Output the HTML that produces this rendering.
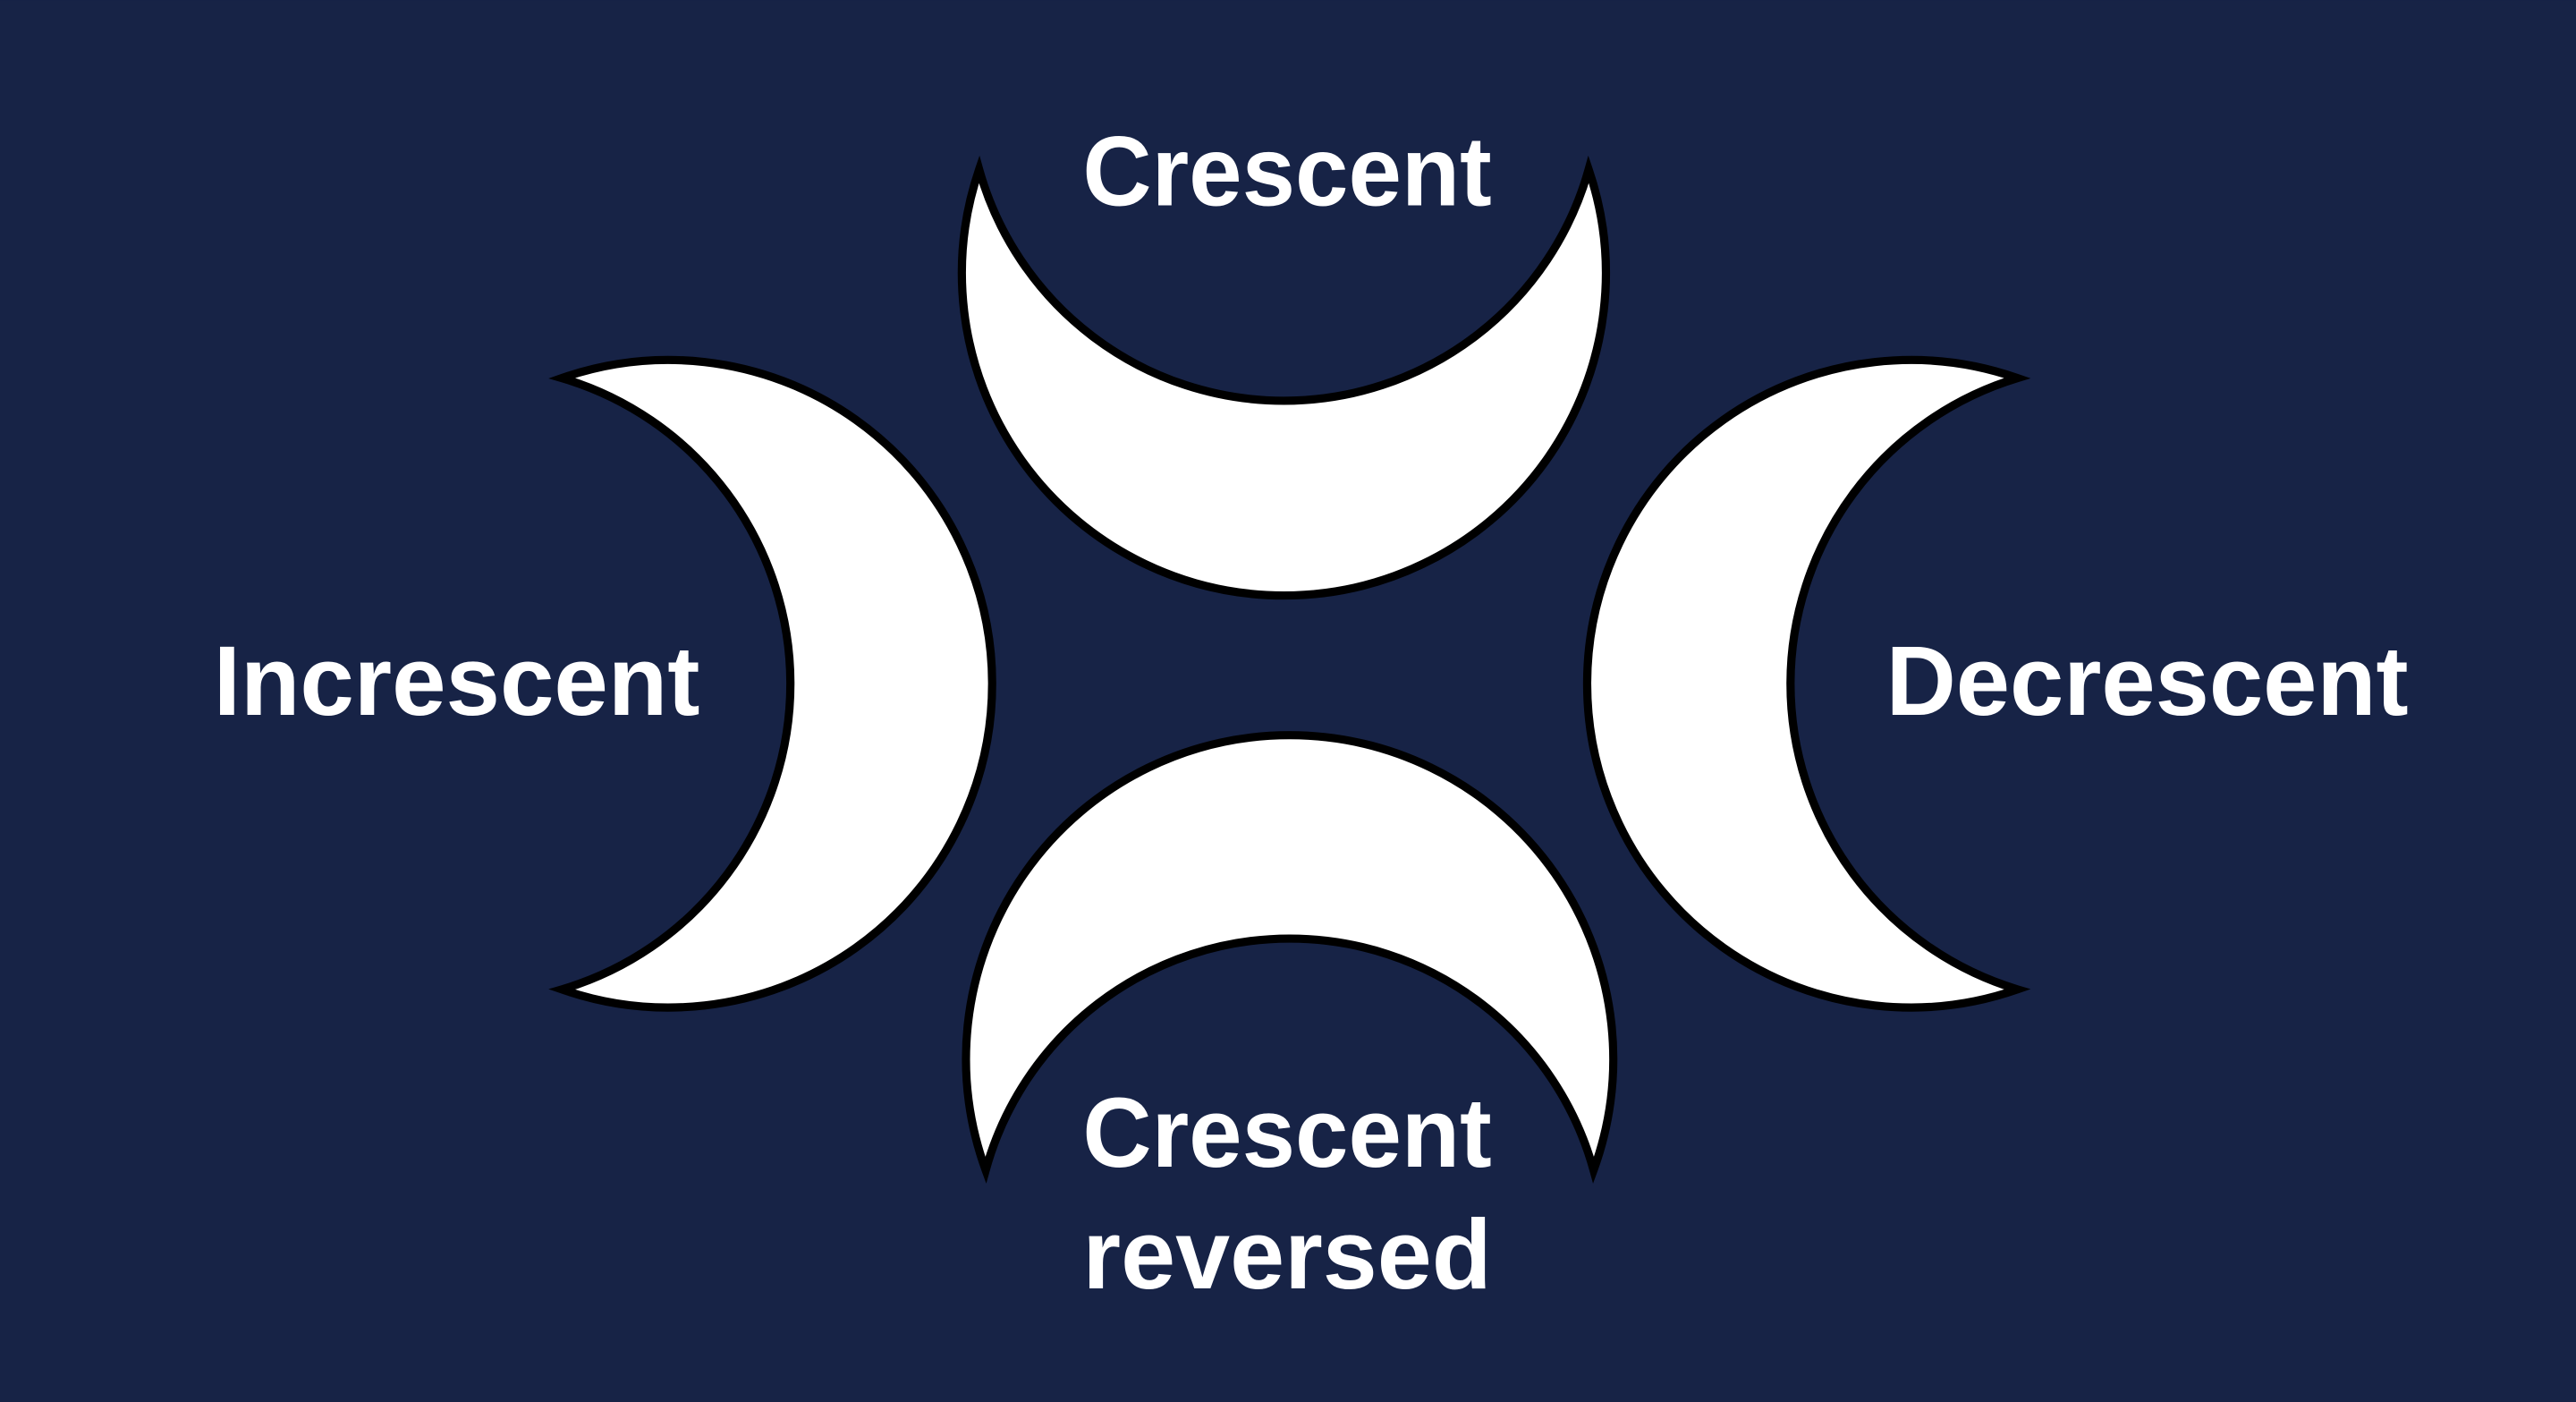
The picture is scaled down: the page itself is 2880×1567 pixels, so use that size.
<!DOCTYPE html>
<html><head><meta charset="utf-8"><style>
html,body{margin:0;padding:0;background:#172346;}
svg{display:block;}
text{font-family:"Liberation Sans",sans-serif;font-weight:bold;fill:#fff;font-size:60px;}
</style></head><body>
<svg width="2880" height="1567" viewBox="0 0 1568 853" xmlns="http://www.w3.org/2000/svg">
<rect width="1568" height="853" fill="#172346"/>
<g fill="#fff" stroke="#000" stroke-width="5" stroke-linejoin="miter">
<path d="M596 103 A196 196 0 1 0 967 103 A192.6 192.6 0 0 1 596 103 Z"/>
<path d="M342 230 A197 197 0 1 1 342 602 A193.9 193.9 0 0 0 342 230 Z"/>
<path d="M1228 230 A197 197 0 1 0 1228 602 A194.3 194.3 0 0 1 1228 230 Z"/>
<path d="M600 712 A197 197 0 1 1 970 712 A191.9 191.9 0 0 0 600 712 Z"/>
</g>
<text x="659" y="125" textLength="249" lengthAdjust="spacingAndGlyphs">Crescent</text>
<text x="130" y="435" textLength="296" lengthAdjust="spacingAndGlyphs">Increscent</text>
<text x="1148" y="435" textLength="318" lengthAdjust="spacingAndGlyphs">Decrescent</text>
<text x="659" y="710" textLength="249" lengthAdjust="spacingAndGlyphs">Crescent</text>
<text x="659" y="784" textLength="249" lengthAdjust="spacingAndGlyphs">reversed</text>
</svg>
</body></html>
